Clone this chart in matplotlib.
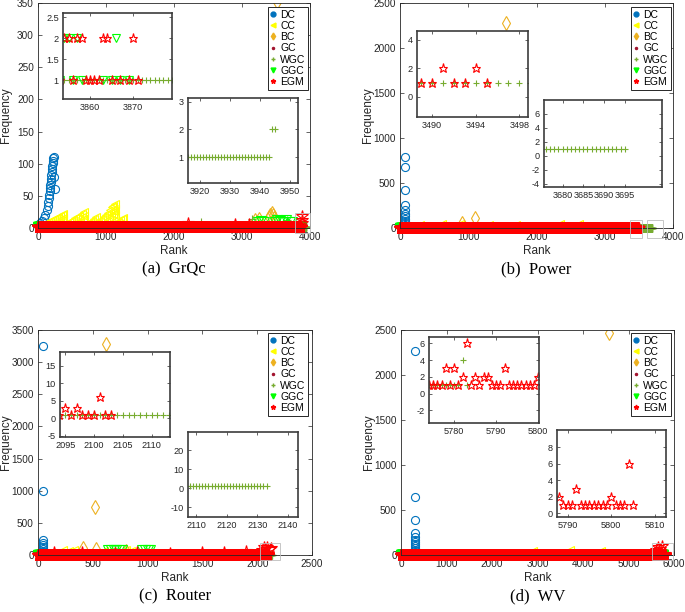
import numpy as np
import matplotlib
matplotlib.use("Agg")
import matplotlib.pyplot as plt
from matplotlib.lines import Line2D
from matplotlib.patches import Rectangle

plt.rcParams["font.family"] = ["Liberation Sans", "DejaVu Sans"]

# ---------------- data ----------------
METHODS = ["DC", "CC", "BC", "GC", "WGC", "GGC", "EGM"]

# (a) GrQc  -- RUN: ranks 1..n that sit at frequency 1 (order of METHODS)
GRQC_RUN = [0, 0, 0, 3853, 3943, 3853, 3853]
GRQC_DC_X = [30, 60, 90, 110, 128, 140, 150, 158, 165, 170, 175, 180, 185, 190, 195,
             200, 205, 210, 215, 220, 225, 230, 240, 250]
GRQC_DC_Y = [8, 11, 15, 20, 28, 34, 40, 46, 52, 57, 62, 67, 72, 77, 82,
             87, 92, 97, 101, 105, 109, 111, 80, 60]
GRQC_CC_X = [60, 90, 120, 150, 180, 210, 240, 270, 300, 330, 360, 370,
             200, 260, 320, 360, 370,
             400, 430, 460, 490, 520, 550, 580, 610, 640, 670,
             560, 620, 660, 670,
             700, 730, 760, 790, 820, 850, 830,
             880, 910, 940, 970, 1000, 1030, 1060, 1090, 1110, 1130,
             1000, 1050, 1080, 1100, 1120, 1130, 1130, 1130,
             1150, 1180, 1210, 1240, 1250]
GRQC_CC_Y = [5, 7, 8, 10, 11, 13, 14, 16, 17, 19, 21, 22,
             6, 8, 10, 12, 15,
             5, 7, 9, 11, 13, 15, 17, 19, 22, 25,
             8, 10, 14, 19,
             5, 7, 9, 11, 14, 17, 8,
             8, 11, 14, 17, 20, 24, 28, 32, 35, 38,
             10, 14, 18, 22, 26, 30, 20, 12,
             8, 10, 12, 14, 15]
GRQC_BC_X = [3190, 3250, 3395, 3415, 3435, 3455, 3475, 3515]
GRQC_BC_Y = [12, 14, 17, 21, 24, 20, 16, 352]
GRQC_GC_X = [3660, 3700]
GRQC_GC_Y = [10, 9]
GRQC_WGC_X = [2397, 3151, 3657, 3944, 3945]
GRQC_WGC_Y = [10, 14, 12, 2, 2]
GRQC_GGC_X = [3230, 3280, 3330, 3480, 3520, 3560, 3600, 3640, 3700, 3740,
              3854, 3855, 3857, 3866, 3856, 3858, 3863, 3865, 3867, 3869]
GRQC_GGC_Y = [9, 11, 10, 10, 12, 11, 9, 12, 10, 9,
              2, 2, 2, 2, 1, 1, 1, 1, 1, 1]
GRQC_EGM_X = [2200, 2900, 3100, 3882, 3885, 3888,
              3854, 3855, 3857, 3858, 3863, 3864, 3870,
              3856, 3859, 3860, 3861, 3862, 3865, 3867, 3869, 3871]
GRQC_EGM_Y = [8, 6, 6, 18, 12, 8,
              2, 2, 2, 2, 2, 2, 2,
              1, 1, 1, 1, 1, 1, 1, 1, 1]

# (b) Power
POWER_RUN = [0, 0, 0, 3480, 3695, 3340, 3488]
POWER_DC_X = [70, 70, 70, 68, 72, 70, 68, 72, 70, 70, 70]
POWER_DC_Y = [792, 681, 422, 256, 200, 160, 130, 105, 80, 55, 30]
POWER_CC_X = [300, 620, 880, 1300, 1700, 2350, 2620]
POWER_CC_Y = [30, 45, 40, 35, 30, 50, 40]
POWER_BC_X = [1549, 1099, 904]
POWER_BC_Y = [2281, 108, 60]
POWER_EGM_X = [3489, 3490, 3491, 3492, 3493, 3494, 3495]
POWER_EGM_Y = [1, 1, 2, 1, 1, 2, 1]

# (c) Router
ROUTER_RUN = [0, 0, 0, 2090, 2133, 1858, 2094]
ROUTER_DC_X = [48, 48, 48, 48, 48, 48, 48, 48, 48]
ROUTER_DC_Y = [3255, 995, 233, 190, 155, 120, 93, 70, 50]
ROUTER_CC_X = [230, 280, 330, 600, 800, 850]
ROUTER_CC_Y = [80, 70, 75, 60, 85, 70]
ROUTER_BC_X = [620, 520, 413, 526, 800]
ROUTER_BC_Y = [3280, 751, 104, 89, 60]
ROUTER_GGC_X = [640, 665, 690, 715, 740, 765, 950, 975, 1000, 1020]
ROUTER_GGC_Y = [85, 85, 85, 85, 85, 85, 85, 85, 85, 85]
ROUTER_EGM_X = [150, 400, 700, 900, 1200, 1500, 1700, 1900,
                2040, 2060, 2075, 2085, 2118, 2125,
                2095, 2096, 2097, 2098, 2099, 2100, 2101, 2102, 2103]
ROUTER_EGM_Y = [40, 50, 30, 45, 35, 50, 40, 60,
                80, 120, 100, 130, 90, 110,
                3, 1, 3, 1, 1, 1, 6, 1, 1]

# (d) WV
WV_RUN = [0, 0, 0, 5770, 5781, 5760, 5774]
WV_DC_X = [300, 300, 300, 300, 300, 300, 300, 300, 300, 300, 300, 300, 300]
WV_DC_Y = [2270, 642, 389, 248, 200, 167, 140, 120, 100, 80, 60, 40, 20]
WV_CC_X = [2910, 3715, 4400]
WV_CC_Y = [50, 60, 40]
WV_BC_X = [4571]
WV_BC_Y = [2463]
WV_WGC_X = [5782, 5783]
WV_WGC_Y = [4, 1]
WV_EGM_X = [5600, 5650, 5700, 5740,
            5775, 5776, 5777, 5778, 5779, 5780, 5781, 5782, 5783, 5784, 5785,
            5786, 5787, 5788, 5789, 5790, 5791, 5792, 5793, 5794, 5795, 5796,
            5797, 5798, 5799, 5800, 5801, 5802, 5803, 5804, 5805]
WV_EGM_Y = [60, 90, 70, 100,
            1, 1, 1, 3, 1, 3, 1, 2, 6, 1, 2,
            1, 2, 2, 1, 1, 1, 3, 1, 1, 1, 1,
            1, 1, 1, 2, 1, 1, 1, 6, 1]

# ---------------- style ----------------
COLORS = {"DC": "#0072BD", "CC": "#FFFF00", "BC": "#EDB120", "GC": "#A2142F",
          "WGC": "#77AC30", "GGC": "#00FF00", "EGM": "#FF0000"}
MARKERS = {"DC": "o", "CC": "<", "BC": "d", "GC": ".", "WGC": "+", "GGC": "v", "EGM": "*"}
SIZES_MAIN = {"DC": 5.8, "CC": 6, "BC": 7.5, "GC": 3, "WGC": 6, "GGC": 7, "EGM": 8.5}
SIZES_INSET = {"DC": 5, "CC": 5, "BC": 6.5, "GC": 3, "WGC": 5, "GGC": 5.5, "EGM": 6.5}
AX_COLOR = "#262626"
TICK_FS = 7.2
INSET_FS = 6.6

W, H = 685, 612
fig = plt.figure(figsize=(W / 100, H / 100), dpi=100)


def px_axes(x0, y0, x1, y1):
    return fig.add_axes([x0 / W, 1 - y1 / H, (x1 - x0) / W, (y1 - y0) / H])


def build(run, pts):
    out = {}
    for i, m in enumerate(METHODS):
        px, py = pts.get(m, ([], []))
        xs = list(range(1, run[i] + 1)) + list(px)
        ys = [1] * run[i] + list(py)
        out[m] = (np.array(xs), np.array(ys))
    return out


def draw_series(ax, data, inset=False):
    sizes = SIZES_INSET if inset else SIZES_MAIN
    for m in METHODS:
        x, y = data[m]
        if len(x) == 0:
            continue
        clip = True if (inset or m == "BC") else False
        ax.plot(x, y, ls="none", marker=MARKERS[m], ms=sizes[m], mfc="none",
                mec=COLORS[m], mew=0.8, clip_on=clip)


def style_axes(ax, lw=0.6, tl=3, fs=TICK_FS):
    for s in ax.spines.values():
        s.set_linewidth(lw)
        s.set_color(AX_COLOR)
    ax.tick_params(direction="in", length=tl, width=0.5, labelsize=fs,
                   colors=AX_COLOR, top=True, right=True, pad=3)


PANELS = [
    dict(box=(38, 3, 310, 228), cap="(a)  GrQc", xlim=(0, 4000), ylim=(0, 350),
         xt=np.arange(0, 4001, 1000), yt=np.arange(0, 351, 50),
         data=build(GRQC_RUN, {"DC": (GRQC_DC_X, GRQC_DC_Y), "CC": (GRQC_CC_X, GRQC_CC_Y),
                               "BC": (GRQC_BC_X, GRQC_BC_Y), "GC": (GRQC_GC_X, GRQC_GC_Y),
                               "WGC": (GRQC_WGC_X, GRQC_WGC_Y), "GGC": (GRQC_GGC_X, GRQC_GGC_Y),
                               "EGM": (GRQC_EGM_X, GRQC_EGM_Y)}),
         rects=[(3780, -7, 220, 30)],
         leg=(308, 7),
         insets=[dict(box=(63, 13, 172, 99), xlim=(3853.7, 3879), ylim=(0.55, 2.6),
                      xt=[3860, 3870], yt=[1, 1.5, 2, 2.5]),
                 dict(box=(188, 98, 298, 183), xlim=(3916, 3952.7), ylim=(0.08, 3.13),
                      xt=[3920, 3930, 3940, 3950], yt=[1, 2, 3])]),
    dict(box=(400, 3, 673, 228), cap="(b)  Power", xlim=(0, 4000), ylim=(0, 2500),
         xt=np.arange(0, 4001, 1000), yt=np.arange(0, 2501, 500),
         data=build(POWER_RUN, {"DC": (POWER_DC_X, POWER_DC_Y), "CC": (POWER_CC_X, POWER_CC_Y),
                                "BC": (POWER_BC_X, POWER_BC_Y), "EGM": (POWER_EGM_X, POWER_EGM_Y)}),
         rects=[(3370, -114, 170, 203), (3614, -114, 244, 203)],
         leg=(671, 7),
         insets=[dict(box=(417, 31, 528, 117), xlim=(3488.6, 3498.8), ylim=(-1.4, 4.6),
                      xt=[3490, 3494, 3498], yt=[0, 2, 4]),
                 dict(box=(544, 100, 662, 187), xlim=(3675.5, 3704), ylim=(-4.5, 8),
                      xt=[3680, 3685, 3690, 3695], yt=[-4, -2, 0, 2, 4, 6])]),
    dict(box=(38, 330, 312, 555), cap="(c)  Router", xlim=(0, 2500), ylim=(0, 3500),
         xt=np.arange(0, 2501, 500), yt=np.arange(0, 3501, 500),
         data=build(ROUTER_RUN, {"DC": (ROUTER_DC_X, ROUTER_DC_Y), "CC": (ROUTER_CC_X, ROUTER_CC_Y),
                                 "BC": (ROUTER_BC_X, ROUTER_BC_Y), "GGC": (ROUTER_GGC_X, ROUTER_GGC_Y),
                                 "EGM": (ROUTER_EGM_X, ROUTER_EGM_Y)}),
         rects=[(2026, -78, 182, 260)],
         leg=(308, 333),
         insets=[dict(box=(60, 352, 170, 437), xlim=(2094.1, 2113.2), ylim=(-5.4, 19),
                      xt=[2095, 2100, 2105, 2110], yt=[-5, 0, 5, 10, 15]),
                 dict(box=(188, 432, 298, 517), xlim=(2107.3, 2143.3), ylim=(-15, 29.5),
                      xt=[2110, 2120, 2130, 2140], yt=[-10, 0, 10, 20])]),
    dict(box=(401, 330, 674, 555), cap="(d)  WV", xlim=(0, 6000), ylim=(0, 2500),
         xt=np.arange(0, 6001, 1000), yt=np.arange(0, 2501, 500),
         data=build(WV_RUN, {"DC": (WV_DC_X, WV_DC_Y), "CC": (WV_CC_X, WV_CC_Y),
                             "BC": (WV_BC_X, WV_BC_Y), "WGC": (WV_WGC_X, WV_WGC_Y),
                             "EGM": (WV_EGM_X, WV_EGM_Y)}),
         rects=[(5510, -60, 475, 190)],
         leg=(671, 333),
         insets=[dict(box=(429, 337, 539, 423), xlim=(5774, 5800.2), ylim=(-3.5, 6.75),
                      xt=[5780, 5790, 5800], yt=[-2, 0, 2, 4, 6]),
                 dict(box=(557, 430, 666, 517), xlim=(5787.6, 5812.5), ylim=(-0.45, 10.1),
                      xt=[5790, 5800, 5810], yt=[0, 2, 4, 6, 8])]),
]

for p in PANELS:
    x0, y0, x1, y1 = p["box"]
    ax = px_axes(x0, y0, x1, y1)
    draw_series(ax, p["data"])
    ax.set_xlim(*p["xlim"])
    ax.set_ylim(*p["ylim"])
    ax.set_xticks(p["xt"])
    ax.set_yticks(p["yt"])
    style_axes(ax)
    for rx, ry, rw, rh in p["rects"]:
        ax.add_patch(Rectangle((rx, ry), rw, rh, fill=False, ec="#BDBDBD", lw=0.6,
                               clip_on=False, zorder=5))

    # legend with small filled markers
    handles = [Line2D([], [], ls="none", marker=MARKERS[m], color=COLORS[m],
                      ms=3.5 if m not in ("GC", "WGC") else 3, mew=1) for m in METHODS]
    lg = ax.legend(handles, METHODS, loc="upper right",
                   bbox_to_anchor=(p["leg"][0] / W, 1 - p["leg"][1] / H),
                   bbox_transform=fig.transFigure, fontsize=7.5, frameon=True,
                   fancybox=False, borderaxespad=0, borderpad=0.25, labelspacing=0.12,
                   handlelength=0.6, handletextpad=0.35, framealpha=1)
    lg.get_frame().set_edgecolor(AX_COLOR)
    lg.get_frame().set_linewidth(0.7)
    lg.set_zorder(20)

    # axis labels and caption
    cx = (x0 + x1) / 2
    fig.text(cx / W, 1 - (y1 + 23) / H, "Rank", ha="center", va="center",
             fontsize=8.5, color=AX_COLOR)
    fig.text((x0 - 32) / W, 1 - ((y0 + y1) / 2) / H, "Frequency", ha="center",
             va="center", rotation=90, fontsize=8.5, color=AX_COLOR)
    fig.text(cx / W, 1 - (y1 + 41) / H, p["cap"], ha="center", va="center",
             fontsize=12, family=["Liberation Serif", "DejaVu Serif"])

    for ins in p["insets"]:
        a0, b0, a1, b1 = ins["box"]
        ia = px_axes(a0, b0, a1, b1)
        ia.set_zorder(10)
        ia.set_facecolor("white")
        draw_series(ia, p["data"], inset=True)
        ia.set_xlim(*ins["xlim"])
        ia.set_ylim(*ins["ylim"])
        ia.set_xticks(ins["xt"])
        ia.set_yticks(ins["yt"])
        ia.set_yticklabels([f"{v:g}" for v in ins["yt"]])
        style_axes(ia, lw=1.2, tl=2.5, fs=INSET_FS)
        for s in ia.spines.values():
            s.set_color("#3C3C3C")

fig.savefig("out.png", dpi=100)
